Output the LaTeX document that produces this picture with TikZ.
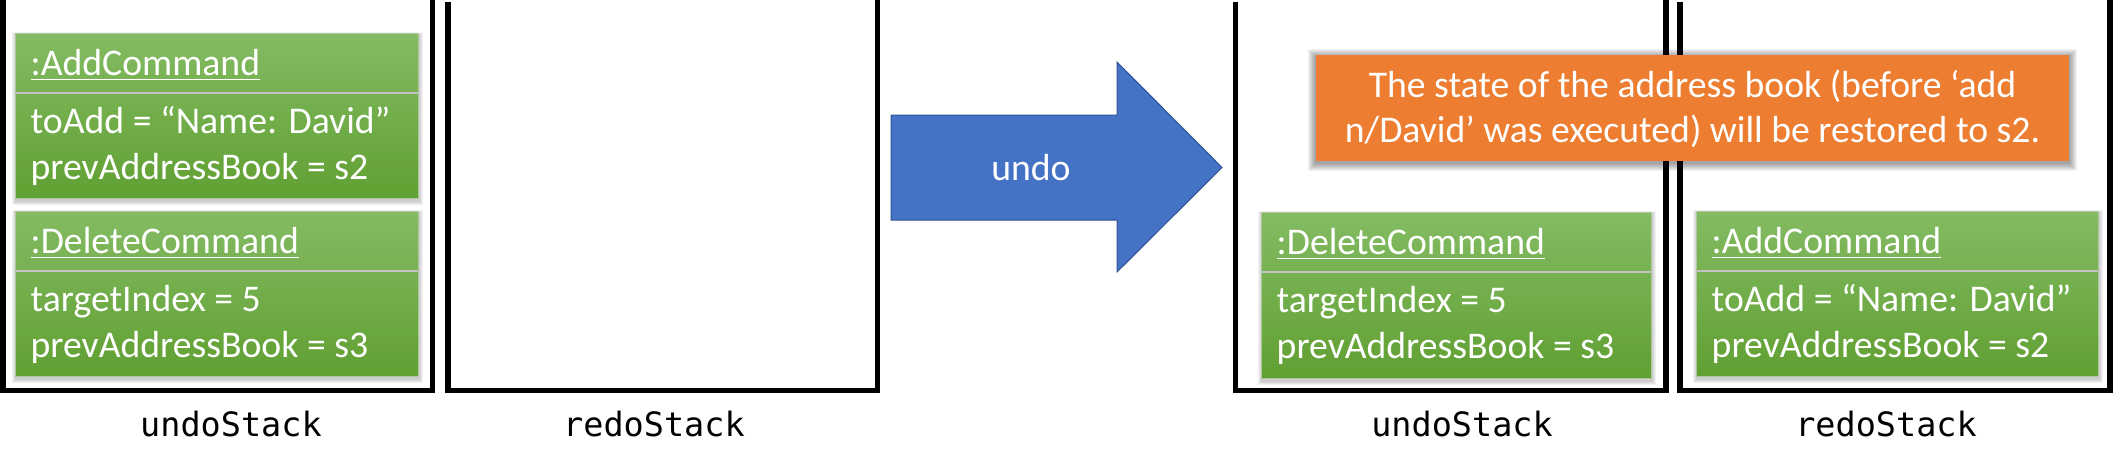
\documentclass[tikz,border=0pt]{standalone}
\usepackage{fontspec}
\setmainfont{Carlito}
\newfontfamily\monof{DejaVu Sans Mono}
\usetikzlibrary{calc}
\definecolor{ora}{RGB}{237,125,49}
\definecolor{blu}{RGB}{68,114,196}
\definecolor{bluedge}{RGB}{47,82,143}
\definecolor{gtop}{RGB}{132,187,99}
\definecolor{gbot}{RGB}{96,160,50}
\definecolor{gedge}{RGB}{175,200,160}
\definecolor{gdiv}{RGB}{195,195,195}
\tikzset{
  wall/.style={line width=5.5pt, line join=miter},
  cmdbox/.style={draw=gedge, line width=0.8pt, top color=gtop, bottom color=gbot, inner sep=0pt, anchor=north west},
  wtxt/.style={text=white, inner sep=0pt, anchor=base west, font=\fontsize{37.7}{45}\selectfont},
  ctxt/.style={text=white, inner sep=0pt, anchor=base, font=\fontsize{37.7}{45}\selectfont},
  lbl/.style={inner sep=0pt, anchor=base, font=\monof\fontsize{33.5}{40}\selectfont},
  notebox/.style={fill=ora, inner sep=0pt, anchor=north west},
}
% soft shadow: x1 y1 x2 y2 dx dy spread
\newcommand\softshadow[7]{%
  \foreach \i in {1,...,#7}{%
    \fill[black, opacity=0.05] (#1+#5-\i,#2+#6-\i) rectangle (#3+#5+\i,#4+#6+\i);}%
}
% command box: name, x, y, width, height, title, line1, line2
\newcommand\cmdobj[8]{%
  \softshadow{#2}{#3}{#2+#4}{#3+#5}{1}{3}{4}
  \node[cmdbox, minimum width=#4pt, minimum height=#5pt] (#1) at (#2,#3) {};
  \draw[gdiv, line width=1.5pt] ($(#1.north west)+(0.5,60)$) -- ($(#1.north east)+(-0.5,60)$);
  \node[wtxt] (#1t) at ($(#1.north west)+(15.5,42)$) {#6};
  \draw[white, line width=1.8pt] ($(#1t.base west)+(0,4.5)$) -- ($(#1t.base east)+(0,4.5)$);
  \node[wtxt] (#1a) at ($(#1.north west)+(15.5,100)$) {#7};
  \node[wtxt] (#1b) at ($(#1.north west)+(15.5,146)$) {#8};
}
\begin{document}
\begin{tikzpicture}[x=1pt, y=-1pt]
\useasboundingbox[fill=white] (0,0) rectangle (2113,471);
% stacks
\draw[wall] (2.75,0) -- (2.75,390.5) -- (432.5,390.5) -- (432.5,0);
\draw[wall] (448,1.5) -- (448,390.5) -- (877.5,390.5) -- (877.5,0);
\draw[wall] (1235.5,1.5) -- (1235.5,390.5) -- (1666,390.5) -- (1666,0);
\draw[wall] (1680,1.5) -- (1680,390.5) -- (2110.2,390.5) -- (2110.2,0);
% labels
\node[lbl] (l1) at (231,436) {undoStack};
\node[lbl] (l2) at (654,436) {redoStack};
\node[lbl] (l3) at (1462,436) {undoStack};
\node[lbl] (l4) at (1886,436) {redoStack};
% command objects
\cmdobj{ua}{15}{33}{403}{165}{:AddCommand}{toAdd = “Name: David”}{prevAddressBook = s2}
\cmdobj{ud}{15}{211}{403}{165}{:DeleteCommand}{targetIndex = 5}{prevAddressBook = s3}
\cmdobj{nd}{1261}{212}{390}{166}{:DeleteCommand}{targetIndex = 5}{prevAddressBook = s3}
\cmdobj{na}{1696}{211}{402}{165}{:AddCommand}{toAdd = “Name: David”}{prevAddressBook = s2}
% undo arrow
\draw[fill=blu, draw=bluedge, line width=1pt, line join=miter]
  (891,115) -- (1117,115) -- (1117,62) -- (1222,167.5) -- (1117,272) -- (1117,220) -- (891,220) -- cycle;
\node[ctxt] (undo) at (1031,180) {undo};
% note
\softshadow{1316}{55}{2069}{161}{0}{2}{8}
\node[notebox, minimum width=753pt, minimum height=106pt] (note) at (1316,55) {};
\node[ctxt] (n1) at (1692.5,97) {The state of the address book (before ‘add};
\node[ctxt] (n2) at (1692.5,142) {n/David’ was executed) will be restored to s2.};
\end{tikzpicture}
\end{document}
